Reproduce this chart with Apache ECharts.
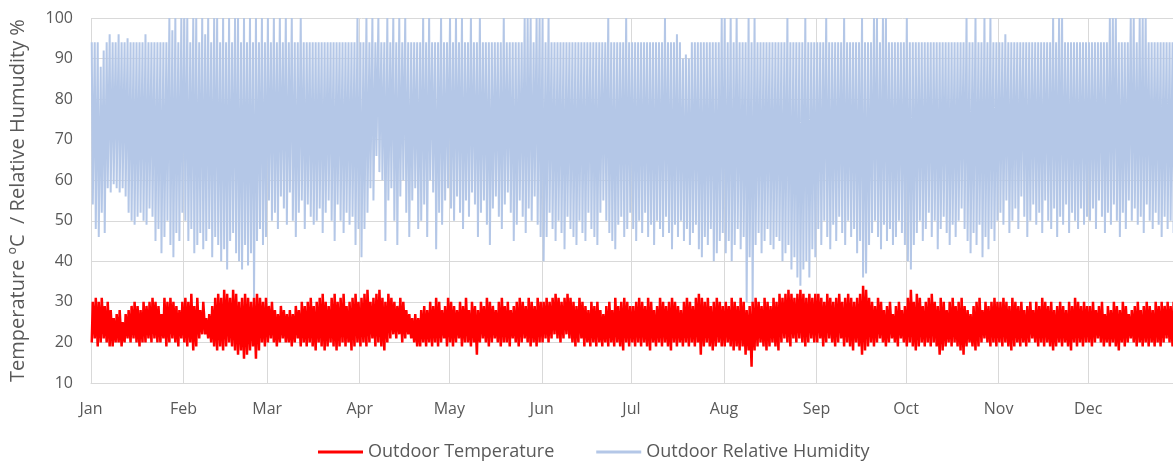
<!DOCTYPE html>
<html>
<head>
<meta charset="utf-8">
<script src="https://cdn.jsdelivr.net/npm/echarts@6/dist/echarts.min.js"></script>
<style>html,body{margin:0;padding:0;background:#fff}#c{width:1173px;height:468px}</style>
</head>
<body>
<div id="c"></div>
<script>
const monthNames = ['Jan','Feb','Mar','Apr','May','Jun','Jul','Aug','Sep','Oct','Nov','Dec'];
const monthStartDay = [0,31,59,90,120,151,181,212,243,273,304,334];
const yTicks = [10,20,30,40,50,60,70,80,90,100];

// Daily maximum outdoor temperature (ºC), one row per month
const tempMax = [
 [30,31,30,31,29,30,28,26,27,28,25,27,28,29,30,29,28,30,29,30,31,30,29,27,31,30,31,30,29,28,30],
 [31,30,32,29,31,28,30,26,27,29,31,32,31,33,32,31,33,32,30,31,32,31,30,31,32,31,30,31],
 [29,30,28,27,29,28,27,28,27,29,28,30,29,30,31,29,30,31,32,30,29,31,32,30,31,32,29,30,31,32,30],
 [31,32,33,30,31,32,33,31,30,32,31,30,29,31,30,28,27,26,27,26,28,29,28,30,29,31,30,28,29,31],
 [30,29,28,30,29,31,28,30,29,28,30,29,31,30,29,28,30,31,29,30,28,29,30,31,30,29,31,30,29,31,30],
 [30,31,30,31,32,31,30,31,32,31,30,29,31,30,29,28,30,29,30,28,27,29,30,28,31,29,30,31,30,29],
 [29,30,31,30,29,31,30,28,29,31,30,29,30,31,30,29,28,30,31,30,29,31,32,31,30,31,29,30,31,30,29],
 [30,29,31,30,29,31,30,28,29,30,31,30,29,31,30,29,31,30,32,31,32,33,32,31,32,33,32,31,32,31,32],
 [32,31,30,32,31,30,31,32,30,31,32,31,30,31,32,34,33,31,30,29,31,30,28,29,30,27,29,30,28,29],
 [31,33,30,32,31,29,30,31,32,30,29,31,30,28,30,31,29,30,31,29,28,27,29,30,31,28,30,29,30,31,30],
 [30,31,30,29,31,30,29,30,28,29,30,28,30,29,31,30,29,30,28,29,30,29,28,30,29,31,30,29,30,29],
 [29,30,28,29,30,27,29,28,30,29,28,30,29,27,28,29,30,28,29,30,29,28,30,29,30,29,30,29,30,31]
];
// Daily minimum outdoor temperature (ºC)
const tempMin = [
 [20,21,19,20,21,20,19,19,20,20,19,20,21,20,21,20,19,20,20,21,20,21,20,20,21,19,20,21,20,19,21],
 [20,19,20,18,19,21,22,22,21,20,19,18,19,18,19,20,19,18,17,18,16,17,18,19,16,18,20,19],
 [20,21,20,19,20,21,20,20,19,20,21,19,20,19,20,19,18,20,19,18,19,20,19,18,19,20,19,20,18,19,20],
 [19,20,19,20,21,19,20,19,18,20,21,22,21,22,20,21,22,21,20,19,19,20,19,20,19,20,19,20,21,19],
 [20,19,20,21,19,20,20,19,20,17,20,21,20,19,20,21,20,19,20,20,19,21,20,19,20,21,20,19,20,19,20],
 [20,21,20,21,22,21,20,21,22,21,20,19,20,21,19,20,19,20,19,20,19,20,19,20,19,20,19,18,20,19],
 [20,19,20,19,20,19,18,20,19,20,19,20,19,18,20,19,20,19,20,19,20,19,20,17,19,20,19,18,19,20,19],
 [19,20,19,18,19,18,19,17,18,14,18,19,20,19,18,19,20,19,18,20,21,20,19,21,20,21,20,19,20,21,20],
 [20,21,19,20,21,20,19,20,21,19,20,19,18,20,19,17,18,19,20,19,20,21,20,19,20,21,20,19,21,20],
 [19,20,19,18,19,20,19,20,19,20,19,17,18,19,20,19,20,19,18,17,19,20,19,18,19,20,21,20,19,20,19],
 [20,19,20,19,18,19,20,19,20,19,20,21,20,19,20,19,20,19,18,19,20,19,20,19,18,20,19,20,19,20],
 [20,19,20,21,20,19,20,19,20,19,18,20,19,20,21,20,19,20,19,20,19,20,19,20,19,20,21,20,19,20]
];
// Daily maximum outdoor relative humidity (%)
const humMax = [
 [94,94,94,88,92,94,96,94,94,96,94,94,95,94,94,94,94,94,96,94,94,94,94,94,94,94,100,97,100,94,100],
 [100,100,94,100,100,94,100,96,100,94,100,100,94,100,94,100,94,100,100,94,100,94,100,94,100,94,100,94],
 [100,94,100,94,100,94,100,94,100,94,94,100,94,94,94,94,94,94,94,94,94,94,94,94,94,94,94,94,94,94,100],
 [94,94,100,94,100,94,100,94,94,100,94,100,94,100,94,100,94,94,94,94,94,100,94,100,94,94,94,100,94,94],
 [100,94,100,94,100,94,94,100,94,94,100,94,94,94,94,94,94,94,100,94,94,94,94,94,94,100,100,100,94,100,100],
 [100,94,100,94,94,94,94,94,94,94,94,94,94,94,94,94,94,94,94,94,94,94,100,94,94,94,94,94,100,94],
 [94,94,94,94,94,94,94,94,94,94,94,100,94,94,94,96,94,90,91,90,94,94,94,94,94,94,94,94,94,94,100],
 [100,94,100,94,100,94,94,94,100,94,100,94,94,94,94,94,94,94,94,94,94,100,94,94,94,94,94,100,94,94,94],
 [94,94,94,100,94,94,94,94,94,100,94,94,94,94,94,100,94,94,94,100,100,94,100,100,94,94,94,94,94,94],
 [100,94,94,94,94,94,94,94,94,94,94,94,94,94,94,94,94,94,94,94,100,94,94,100,94,94,100,94,100,94,94],
 [94,94,96,94,94,94,94,94,94,94,94,94,94,94,94,94,94,94,100,94,100,100,94,94,94,94,94,94,94,94],
 [94,94,94,94,94,94,94,100,100,100,94,94,94,94,100,100,94,100,100,100,94,94,94,94,94,94,94,94,94,94]
];
// Daily minimum outdoor relative humidity (%)
const humMin = [
 [54,48,46,52,47,58,57,59,58,57,58,56,52,50,49,51,52,50,49,53,51,45,48,42,46,50,44,41,47,45,52],
 [50,45,48,42,44,47,43,45,48,41,46,44,40,43,38,45,47,42,40,38,44,39,42,31,45,48,44,46],
 [55,50,52,48,56,53,49,57,50,46,52,55,48,54,51,49,50,53,47,52,55,50,45,54,50,47,52,49,51,44,48],
 [41,48,52,58,55,66,62,60,45,55,58,50,44,56,60,52,46,55,58,48,50,54,46,60,57,43,52,49,55,58],
 [53,50,56,52,48,55,51,57,54,46,52,55,49,44,53,56,51,48,54,57,52,45,49,55,51,47,53,50,56,49,46],
 [40,46,52,48,45,50,47,43,51,48,46,44,50,47,45,52,48,46,44,52,55,50,47,45,43,49,51,46,48,52],
 [48,45,50,47,52,46,49,44,50,48,46,51,47,43,49,46,50,45,48,44,47,49,43,41,46,44,48,40,42,45,47],
 [42,45,40,44,48,43,46,30,41,30,44,47,42,45,48,44,43,46,45,40,42,44,38,41,36,34,38,40,36,43,41],
 [48,44,50,46,43,49,45,51,47,44,50,46,48,42,45,36,37,44,47,50,46,43,49,45,48,44,46,50,47,44],
 [40,38,44,47,50,45,48,52,46,50,43,48,51,47,44,49,46,50,53,48,45,42,47,44,49,41,46,43,48,45,50],
 [52,49,55,47,50,53,48,56,51,46,50,54,49,52,47,55,50,48,53,46,51,49,54,47,52,50,48,53,49,51],
 [50,53,48,55,51,47,52,49,54,50,46,52,48,55,50,53,49,51,47,54,50,48,52,49,46,51,48,50,47,43]
];

// Build daily min/max sequences (min at early morning, max mid-afternoon for temperature; reverse for RH)
function daily(rowsA, rowsB) {
  const out = [];
  let day = 0;
  for (let m = 0; m < rowsA.length; m++) {
    for (let d = 0; d < rowsA[m].length; d++) {
      out.push([day + 0.25, rowsA[m][d]]);
      out.push([day + 0.6, rowsB[m][d]]);
      day++;
    }
  }
  return out;
}
const tempData = daily(tempMin, tempMax);
const humData = daily(humMax, humMin);

const grey = '#595959';
const gridColor = '#d9d9d9';
const font = '"Open Sans", "Liberation Sans", sans-serif';

const chart = echarts.init(document.getElementById('c'), null, {renderer: 'canvas'});
chart.setOption({
  animation: false,
  textStyle: {fontFamily: font},
  grid: {left: 90, right: 0, top: 18, bottom: 85, containLabel: false},
  legend: {
    bottom: 2,
    left: 313,
    itemWidth: 45,
    itemHeight: 3,
    itemGap: 42,
    icon: 'rect',
    data: ['Outdoor Temperature', 'Outdoor Relative Humidity'],
    textStyle: {color: grey, fontSize: 18, fontFamily: font}
  },
  xAxis: {
    type: 'value',
    min: 0,
    max: 362.4,
    axisLine: {show: true, lineStyle: {color: gridColor, width: 1}},
    axisTick: {show: false, customValues: monthStartDay},
    splitLine: {show: true, lineStyle: {color: gridColor, width: 1}},
    axisLabel: {
      customValues: monthStartDay,
      color: grey, fontSize: 16, fontFamily: font, margin: 18,
      formatter: function (v) { const i = monthStartDay.indexOf(Math.round(v)); return i >= 0 ? monthNames[i] : ''; }
    }
  },
  yAxis: {
    type: 'value',
    min: yTicks[0],
    max: yTicks[yTicks.length - 1],
    interval: 10,
    name: 'Temperature ºC  / Relative Humudity %',
    nameLocation: 'middle',
    nameGap: 63,
    nameTextStyle: {color: grey, fontSize: 20, fontFamily: font},
    axisLine: {show: false},
    axisTick: {show: false},
    splitLine: {show: true, lineStyle: {color: gridColor, width: 1}},
    axisLabel: {color: grey, fontSize: 16, fontFamily: font, margin: 18}
  },
  series: [
    {
      name: 'Outdoor Relative Humidity',
      type: 'line',
      data: humData,
      showSymbol: false,
      symbol: 'none',
      clip: true,
      lineStyle: {color: '#b4c7e7', width: 2},
      itemStyle: {color: '#b4c7e7'},
      z: 2
    },
    {
      name: 'Outdoor Temperature',
      type: 'line',
      data: tempData,
      showSymbol: false,
      symbol: 'none',
      clip: true,
      lineStyle: {color: '#ff0000', width: 2.5},
      itemStyle: {color: '#ff0000'},
      z: 3
    }
  ]
});
</script>
</body>
</html>
